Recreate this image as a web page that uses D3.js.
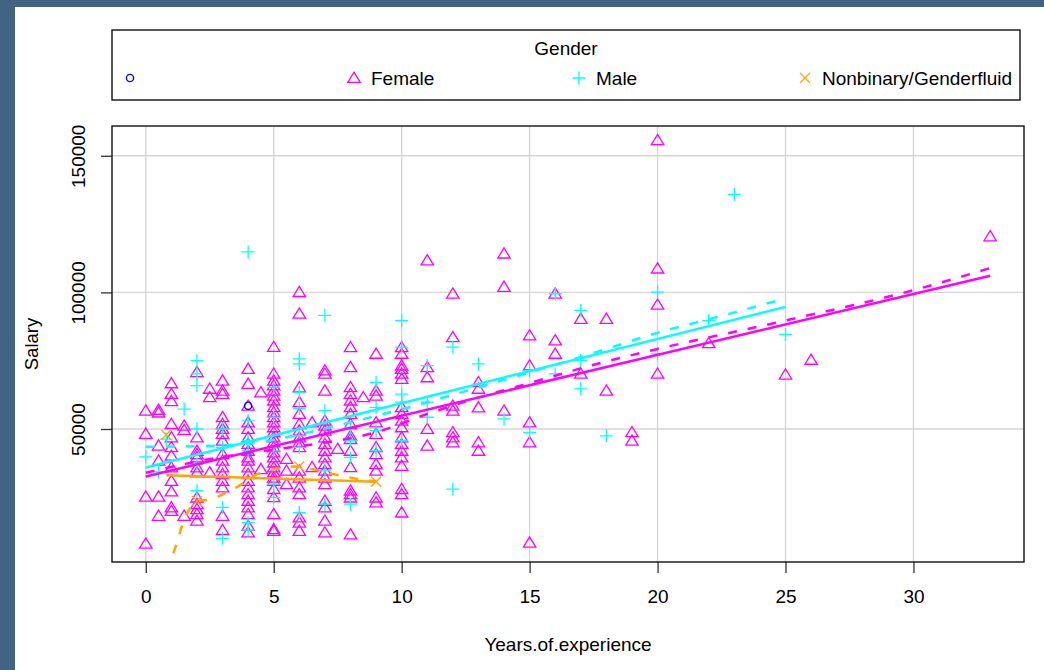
<!DOCTYPE html>
<html>
<head>
<meta charset="utf-8">
<script src="https://cdn.jsdelivr.net/npm/d3@7"></script>
<style>
  body { margin: 0; background: #ffffff; }
  svg { display: block; }
  text { font-family: "Liberation Sans", Arial, sans-serif; fill: #000; }
</style>
</head>
<body>
<svg id="chart" width="1044" height="670"></svg>
<script>
// ---- axis ticks ----
const expTicks = [0, 5, 10, 15, 20, 25, 30];
const salaryTicks = [50000, 100000, 150000];

// ---- groups ----
const groupNames = ["", "Female", "Male", "Nonbinary/Genderfluid"];
const groupColors = ["#0000ff", "#ff00ff", "#00ffff", "#ffa500"];

// ---- observations: experience level and the salaries recorded at it ----
const blankExp = [4];
const blankSalary = [[58500]];

const femaleExp = [0, 0.5, 1, 1.5, 2, 2.5, 3, 4, 4.5, 5, 5.5, 6, 6.5, 7, 7.5, 8, 8.5, 9, 10, 11, 12, 13, 14, 15, 16, 17, 18, 19, 20, 22, 25, 26, 33];
const femaleSalary = [
  [56700, 48200, 25200, 8000],
  [57000, 56000, 43900, 38400, 25200, 18200],
  [66700, 62800, 60200, 51800, 46900, 43300, 40200, 35900, 31000, 27100, 21300, 20000],
  [51200, 49600, 18200],
  [70800, 46900, 42000, 40800, 39600, 35900, 34100, 24900, 22500, 20600, 18800, 16400],
  [64700, 61600, 34100],
  [67700, 64000, 62800, 54300, 51800, 50000, 48200, 45700, 40800, 38400, 35900, 33500, 31000, 28600, 18200, 13000],
  [72000, 66500, 58500, 52400, 50000, 46900, 44500, 42000, 39600, 38400, 35900, 33500, 31000, 28600, 26100, 23700, 21300, 18800, 14500, 12100],
  [63400, 35300],
  [80000, 70200, 67700, 65900, 64000, 62200, 60400, 58000, 56100, 54300, 52400, 50600, 48800, 46900, 45100, 43300, 41400, 39600, 37700, 35900, 34100, 32200, 31000, 28000, 25000, 18800, 13300, 12700],
  [39000, 34700, 29800],
  [100100, 92200, 65200, 59800, 55500, 51800, 49400, 46900, 45100, 43300, 34700, 32200, 28600, 26100, 17600, 15700, 12700],
  [52400, 36000],
  [71400, 70200, 64000, 53000, 51200, 49400, 46900, 44500, 42000, 39600, 37100, 34700, 32200, 29800, 23700, 21300, 16400, 12100],
  [42700],
  [79900, 72600, 65300, 62800, 60400, 58000, 55500, 51800, 47500, 46300, 42000, 36000, 27400, 26100, 24900, 11400],
  [61600],
  [77500, 64000, 62200, 52400, 48200, 43300, 40800, 37100, 34700, 24900, 23100],
  [79900, 77500, 73200, 72000, 70200, 68300, 58000, 55500, 53000, 50600, 46900, 44500, 42000, 39600, 36500, 28000, 26100, 19400],
  [111700, 72600, 68900, 50000, 43900],
  [99500, 83600, 58500, 56700, 48800, 46900, 45100],
  [67100, 64700, 57900, 45100, 42000],
  [114200, 102000, 56700],
  [84200, 73200, 52400, 45100, 8400],
  [99500, 82400, 77500],
  [90300, 70200],
  [90300, 64000],
  [48800, 45700],
  [155700, 108700, 95500, 70200],
  [81400],
  [69900],
  [75300],
  [120500]
];

const maleExp = [0, 0.5, 0.8, 1.5, 2, 3, 4, 5, 6, 7, 8, 9, 10, 11, 12, 13, 14, 15, 16, 17, 18, 20, 22, 23, 25];
const maleSalary = [
  [39800],
  [34300],
  [46300],
  [57300],
  [75000, 70200, 65900, 50000, 37100, 27400],
  [50000, 43300, 21300, 10000],
  [114800, 53000, 45700, 42000, 15700, 13000],
  [65300, 54300, 42000, 29800, 25000],
  [75700, 73800, 63400, 57500, 47500, 43300, 19400],
  [91600, 56700, 34700, 22500],
  [50600, 45700, 39600, 22500],
  [67100, 57900, 49400, 42000],
  [89700, 80000, 62800, 59800, 45700],
  [73200, 59800, 54300],
  [80000, 28000],
  [73800],
  [53700],
  [71400, 48800],
  [99500, 70200],
  [93400, 75100, 64700],
  [47500],
  [100100, 77500],
  [89700],
  [135900],
  [84600]
];

const nbExp = [0.8, 2, 6, 9];
const nbSalary = [[47900], [23700], [36300], [30700]];

// ---- least-squares lines (solid) ----
const femaleFitExp = [0, 33];
const femaleFitSalary = [32600, 106100];
const maleFitExp = [0, 25];
const maleFitSalary = [35900, 94700];
const nbFitExp = [0.8, 9];
const nbFitSalary = [33100, 30700];

// ---- smoothers (dashed) ----
const femaleSmoothExp = [0, 2.5, 5, 7, 9, 11, 13, 15, 17.5, 20, 25, 30, 33];
const femaleSmoothSalary = [34000, 39000, 42500, 45000, 48800, 55500, 61500, 66800, 73500, 79300, 89700, 100800, 108900];
const maleSmoothExp = [0, 2, 4, 6, 8, 10, 12, 14, 16, 18, 20, 22.5, 25];
const maleSmoothSalary = [43500, 43700, 44600, 48000, 52500, 57200, 62500, 68000, 73500, 79300, 85200, 91400, 97800];
const nbSmoothExp = [0.8, 0.96, 1.18, 1.44, 1.7, 1.96, 2.48, 3.14, 3.79, 4.24, 5.09, 5.87, 6.52, 7.24, 8, 9];
const nbSmoothSalary = [-2300, 1700, 7200, 15200, 20600, 23700, 24100, 26700, 30000, 32900, 35500, 36300, 35300, 33700, 32200, 30800];

// ---- layout ----
const W = 1044, H = 670;
const plot = { left: 112, top: 126, right: 1024, bottom: 562 };
const FONT = 19;

const svg = d3.select("#chart");

// page frame
svg.append("rect").attr("x", 0).attr("y", 0).attr("width", W).attr("height", H).attr("fill", "#426483");
svg.append("rect").attr("x", 15).attr("y", 7).attr("width", W - 15).attr("height", H - 7).attr("fill", "#ffffff");

const x = d3.scaleLinear().domain([-1.32, 34.32]).range([plot.left, plot.right]);
const y = d3.scaleLinear().domain([1320, 160900]).range([plot.bottom, plot.top]);

svg.append("defs").append("clipPath").attr("id", "plotClip")
  .append("rect")
  .attr("x", plot.left).attr("y", plot.top)
  .attr("width", plot.right - plot.left).attr("height", plot.bottom - plot.top);

// grid
const grid = svg.append("g").attr("stroke", "#d6d6d6").attr("stroke-width", 1.4);
grid.selectAll("line.gx").data(expTicks).join("line")
  .attr("class", "gx")
  .attr("x1", d => x(d)).attr("x2", d => x(d))
  .attr("y1", plot.top).attr("y2", plot.bottom);
grid.selectAll("line.gy").data(salaryTicks).join("line")
  .attr("class", "gy")
  .attr("x1", plot.left).attr("x2", plot.right)
  .attr("y1", d => y(d)).attr("y2", d => y(d));

// axes
const xAxis = d3.axisBottom(x).tickValues(expTicks).tickSize(11).tickPadding(17).tickFormat(d3.format("d"));
const gx = svg.append("g").attr("transform", `translate(0,${plot.bottom})`).call(xAxis);
gx.select(".domain").remove();
gx.selectAll(".tick line").attr("stroke", "#333").attr("stroke-width", 1.3);
gx.selectAll(".tick text").attr("font-size", FONT).attr("font-family", "Liberation Sans, Arial, sans-serif").attr("fill", "#000");

const yAxis = d3.axisLeft(y).tickValues(salaryTicks).tickSize(11).tickFormat(d3.format("d"));
const gy = svg.append("g").attr("transform", `translate(${plot.left},0)`).call(yAxis);
gy.select(".domain").remove();
gy.selectAll(".tick line").attr("stroke", "#333").attr("stroke-width", 1.3);
gy.selectAll(".tick text")
  .attr("font-size", FONT).attr("font-family", "Liberation Sans, Arial, sans-serif").attr("fill", "#000")
  .attr("x", null).attr("dy", null)
  .attr("text-anchor", "middle")
  .attr("transform", "translate(-27,0) rotate(-90)");

// axis titles
svg.append("text").attr("x", (plot.left + plot.right) / 2).attr("y", 651)
  .attr("text-anchor", "middle").attr("font-size", FONT).text("Years.of.experience");
svg.append("text").attr("transform", `translate(38,${(plot.top + plot.bottom) / 2}) rotate(-90)`)
  .attr("text-anchor", "middle").attr("font-size", 18.5).text("Salary");

// marker shapes
function marker(sel, kind, color) {
  if (kind === 0) {
    sel.append("circle").attr("r", 3.6).attr("fill", "none").attr("stroke", color).attr("stroke-width", 1.4);
  } else if (kind === 1) {
    sel.append("path").attr("d", "M0,-5.8L6.2,4.4L-6.2,4.4Z").attr("fill", "none").attr("stroke", color).attr("stroke-width", 1.3);
  } else if (kind === 2) {
    sel.append("path").attr("d", "M-6.5,0H6.5M0,-6.5V6.5").attr("fill", "none").attr("stroke", color).attr("stroke-width", 1.3);
  } else {
    sel.append("path").attr("d", "M-5,-5L5,5M-5,5L5,-5").attr("fill", "none").attr("stroke", color).attr("stroke-width", 1.3);
  }
}

function flatten(exps, sals) {
  const out = [];
  exps.forEach((e, i) => sals[i].forEach(s => out.push([e, s])));
  return out;
}

const pointSets = [
  flatten(femaleExp, femaleSalary),
  flatten(maleExp, maleSalary),
  flatten(nbExp, nbSalary),
  flatten(blankExp, blankSalary)
];
const pointKinds = [1, 2, 3, 0];

const pts = svg.append("g").attr("clip-path", "url(#plotClip)");
pointSets.forEach((data, k) => {
  const kind = pointKinds[k];
  const color = groupColors[kind];
  pts.append("g").selectAll("g").data(data).join("g")
    .attr("transform", d => `translate(${x(d[0])},${y(d[1])})`)
    .each(function () { marker(d3.select(this), kind, color); });
});

// fitted lines and smoothers
const lineGen = d3.line().x(d => x(d[0])).y(d => y(d[1]));
const smoothGen = d3.line().x(d => x(d[0])).y(d => y(d[1])).curve(d3.curveMonotoneX);
const pair = (a, b) => a.map((v, i) => [v, b[i]]);

const lines = svg.append("g").attr("clip-path", "url(#plotClip)").attr("fill", "none");
[
  [femaleFitExp, femaleFitSalary, femaleSmoothExp, femaleSmoothSalary, groupColors[1]],
  [maleFitExp, maleFitSalary, maleSmoothExp, maleSmoothSalary, groupColors[2]],
  [nbFitExp, nbFitSalary, nbSmoothExp, nbSmoothSalary, groupColors[3]]
].forEach(([fx, fy, sx, sy, color]) => {
  lines.append("path").attr("d", lineGen(pair(fx, fy)))
    .attr("stroke", color).attr("stroke-width", 2.5);
  lines.append("path").attr("d", smoothGen(pair(sx, sy)))
    .attr("stroke", color).attr("stroke-width", 2.5).attr("stroke-dasharray", "9,11");
});

// plot box
svg.append("rect").attr("x", plot.left).attr("y", plot.top)
  .attr("width", plot.right - plot.left).attr("height", plot.bottom - plot.top)
  .attr("fill", "none").attr("stroke", "#111").attr("stroke-width", 1.4);

// legend
const lg = svg.append("g");
lg.append("rect").attr("x", 112).attr("y", 30).attr("width", 908).attr("height", 70)
  .attr("fill", "#fff").attr("stroke", "#111").attr("stroke-width", 1.4);
lg.append("text").attr("x", 566).attr("y", 55).attr("text-anchor", "middle").attr("font-size", FONT).text("Gender");
const legendSymbolX = [130, 354, 579, 805];
groupNames.forEach((name, i) => {
  const item = lg.append("g").attr("transform", `translate(${legendSymbolX[i]},78)`);
  marker(item, i, groupColors[i]);
  if (name) {
    lg.append("text").attr("x", legendSymbolX[i] + 17).attr("y", 85).attr("font-size", FONT).text(name);
  }
});
</script>
</body>
</html>
